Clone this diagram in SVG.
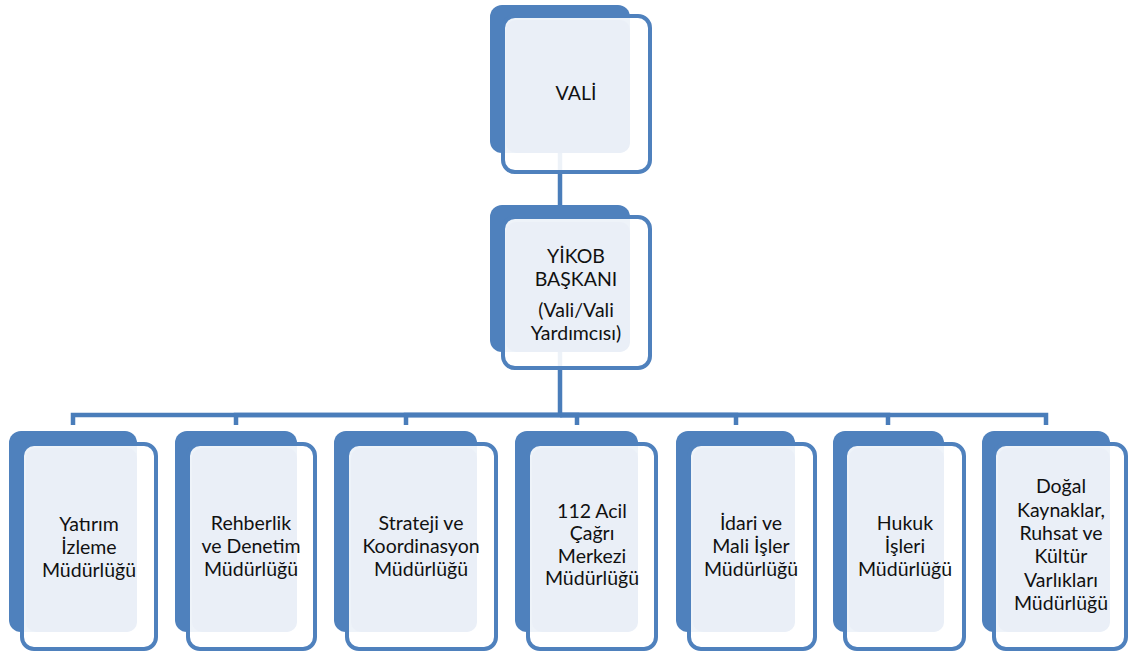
<svg xmlns="http://www.w3.org/2000/svg" width="1130" height="652" viewBox="0 0 1130 652">
<style>
.back{fill:#4F81BD}
.front{fill:#FFFFFF;fill-opacity:0.9;stroke:#4F81BD;stroke-width:4}
.light{fill:#EAEFF7}
.conn{fill:none;stroke:#4A7DBA;stroke-width:4.5}
text{font-family:Lato,"Noto Sans","DejaVu Sans",sans-serif;font-size:19.5px;fill:#111;text-anchor:middle}
</style>
<rect width="1130" height="652" fill="#FFFFFF"/>
<g id="connectors">
<path class="conn" d="M560 150V207"/>
<path class="conn" d="M560 350V415H73V425"/>
<path class="conn" d="M560 415H236V425"/>
<path class="conn" d="M560 415H406V425"/>
<path class="conn" d="M560 415H577V425"/>
<path class="conn" d="M560 415H736V425"/>
<path class="conn" d="M560 415H888V425"/>
<path class="conn" d="M560 415H1046V425"/>
</g>
<g id="vali">
<rect class="back" x="490" y="5" width="140" height="148" rx="12"/>
<rect class="front" x="503" y="16" width="147" height="156" rx="12"/>
<rect class="light" x="506" y="20" width="124" height="133" rx="10"/>
<text x="576" y="100">VALİ</text>
</g>
<g id="yikob">
<rect class="back" x="490" y="205" width="140" height="147" rx="12"/>
<rect class="front" x="503" y="217" width="147" height="151" rx="12"/>
<rect class="light" x="506" y="222" width="124" height="130" rx="10"/>
<text x="576" y="263">YİKOB</text>
<text x="576" y="286">BAŞKANI</text>
<text x="576" y="317">(Vali/Vali</text>
<text x="576" y="340">Yardımcısı)</text>
</g>
<g id="yatirim">
<rect class="back" x="9" y="431" width="128" height="201" rx="12"/>
<rect class="front" x="22" y="444" width="134" height="205" rx="12"/>
<rect class="light" x="26" y="448" width="111" height="184" rx="10"/>
<text x="89" y="531">Yatırım</text>
<text x="89" y="554">İzleme</text>
<text x="89" y="577">Müdürlüğü</text>
</g>
<g id="rehberlik">
<rect class="back" x="175" y="431" width="122" height="201" rx="12"/>
<rect class="front" x="188" y="444" width="127" height="205" rx="12"/>
<rect class="light" x="192" y="448" width="105" height="184" rx="10"/>
<text x="251" y="530">Rehberlik</text>
<text x="251" y="553">ve Denetim</text>
<text x="251" y="576">Müdürlüğü</text>
</g>
<g id="strateji">
<rect class="back" x="334" y="431" width="143" height="201" rx="12"/>
<rect class="front" x="347" y="444" width="149" height="205" rx="12"/>
<rect class="light" x="351" y="448" width="126" height="184" rx="10"/>
<text x="421" y="530">Strateji ve</text>
<text x="421" y="553">Koordinasyon</text>
<text x="421" y="576">Müdürlüğü</text>
</g>
<g id="acil112">
<rect class="back" x="515" y="431" width="123" height="201" rx="12"/>
<rect class="front" x="528" y="444" width="128" height="205" rx="12"/>
<rect class="light" x="532" y="448" width="106" height="184" rx="10"/>
<text x="592" y="518">112 Acil</text>
<text x="592" y="540">Çağrı</text>
<text x="592" y="563">Merkezi</text>
<text x="592" y="585">Müdürlüğü</text>
</g>
<g id="idari">
<rect class="back" x="676" y="431" width="119" height="201" rx="12"/>
<rect class="front" x="689" y="444" width="126" height="205" rx="12"/>
<rect class="light" x="693" y="448" width="102" height="184" rx="10"/>
<text x="751" y="530">İdari ve</text>
<text x="751" y="553">Mali İşler</text>
<text x="751" y="576">Müdürlüğü</text>
</g>
<g id="hukuk">
<rect class="back" x="833" y="431" width="111" height="201" rx="12"/>
<rect class="front" x="845" y="444" width="119" height="205" rx="12"/>
<rect class="light" x="849" y="448" width="95" height="184" rx="10"/>
<text x="905" y="530">Hukuk</text>
<text x="905" y="553">İşleri</text>
<text x="905" y="576">Müdürlüğü</text>
</g>
<g id="dogal">
<rect class="back" x="982" y="431" width="128" height="201" rx="12"/>
<rect class="front" x="994" y="444" width="132" height="205" rx="12"/>
<rect class="light" x="998" y="448" width="112" height="184" rx="10"/>
<text x="1061" y="493">Doğal</text>
<text x="1061" y="517">Kaynaklar,</text>
<text x="1061" y="540">Ruhsat ve</text>
<text x="1061" y="563">Kültür</text>
<text x="1061" y="587">Varlıkları</text>
<text x="1061" y="610">Müdürlüğü</text>
</g>
</svg>
